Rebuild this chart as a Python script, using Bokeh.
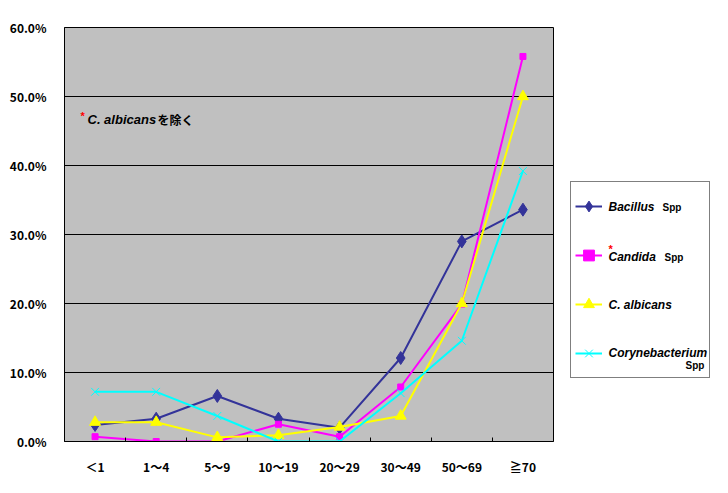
from bokeh.plotting import figure
from bokeh.layouts import row
from bokeh.models import (Range1d, FixedTicker, NumeralTickFormatter,
                          Legend, LegendItem, Label)
from bokeh.embed import file_html
from bokeh.resources import INLINE

# ---- data ----
categories = ["＜1", "1～4", "5～9", "10～19", "20～29", "30～49", "50～69", "≧70"]
bacillus = [0.024, 0.033, 0.066, 0.033, 0.020, 0.121, 0.290, 0.336]
candida = [0.007, 0.000, 0.000, 0.025, 0.007, 0.079, 0.199, 0.558]
albicans = [0.028, 0.028, 0.006, 0.009, 0.021, 0.037, 0.200, 0.500]
coryne = [0.072, 0.072, 0.037, 0.000, 0.000, 0.070, 0.146, 0.392]
y_ticks = [0.0, 0.1, 0.2, 0.3, 0.4, 0.5, 0.6]

FONT = "Noto Sans CJK JP"
LAT = "Liberation Sans"
n = len(categories)
xs = [i + 0.5 for i in range(n)]  # category centres on the category scale

H = 477
TOP, BOT = 27, 28
p = figure(width=562, height=H, x_range=Range1d(0, n),
           y_range=Range1d(0, 0.6), output_backend="svg", toolbar_location=None,
           min_border_left=64, min_border_right=9,
           min_border_top=TOP, min_border_bottom=BOT)
p.background_fill_color = "#C0C0C0"
p.border_fill_color = "white"
p.outline_line_color = "black"
p.outline_line_width = 1
p.xgrid.visible = False
p.ygrid.grid_line_color = "black"
p.ygrid.grid_line_width = 1
p.ygrid.ticker = FixedTicker(ticks=y_ticks)

ya = p.yaxis[0]
ya.ticker = FixedTicker(ticks=y_ticks)
ya.formatter = NumeralTickFormatter(format="0.0%")
ya.major_tick_line_color = None
ya.minor_tick_line_color = None
ya.axis_line_color = "black"
ya.major_label_standoff = 12
ya.major_label_text_font = FONT
ya.major_label_text_font_size = "12px"
ya.major_label_text_font_style = "bold"
ya.major_label_text_color = "black"

# category axis: labels at centres, small inward ticks between categories
overrides = {}
for xv, c in zip(xs, categories):
    overrides[xv] = c
xa = p.xaxis[0]
xa.ticker = FixedTicker(ticks=xs, minor_ticks=list(range(1, n)))
xa.major_label_overrides = overrides
xa.major_tick_line_color = None
xa.minor_tick_in = 4
xa.minor_tick_out = 0
xa.minor_tick_line_color = "black"
xa.axis_line_color = "black"
xa.major_label_standoff = 10
xa.major_label_text_font = FONT
xa.major_label_text_font_size = "12px"
xa.major_label_text_font_style = "bold"
xa.major_label_text_color = "black"

series = [
    ("Bacillus", bacillus, "#333399", "diamond", 13),
    ("Candida", candida, "#FF00FF", "square", 6),
    ("C. albicans", albicans, "#FFFF00", "triangle", 11),
    ("Corynebacterium", coryne, "#00FFFF", "x", 11),
]
for name, vals, col, mk, sz in series:
    p.line(xs, vals, line_color=col, line_width=2)
    p.scatter(xs, vals, marker=mk, size=sz, fill_color=col,
              line_color=col, line_width=1)


def dx(px):
    return (px - 64) / 489 * n


def dy(py):
    return (449 - py) / 422 * 0.6


# annotation inside plot area
p.add_layout(Label(x=dx(80), y=dy(117), text="*", text_font=LAT, text_font_size="11px",
                   text_font_style="bold", text_color="red", text_baseline="middle"))
p.add_layout(Label(x=dx(87), y=dy(121), text="C. albicans", text_font=LAT,
                   text_font_size="13px", text_font_style="bold italic",
                   text_color="black", text_baseline="middle"))
p.add_layout(Label(x=dx(157), y=dy(121), text="を除く", text_font=FONT,
                   text_font_size="12px", text_font_style="bold",
                   text_color="black", text_baseline="middle"))

# ---- legend panel (separate figure to the right; data units = page pixels) ----
X0, LW = 562, 150
QBOT = 440  # measured bottom of this panel's frame on the page
q = figure(width=LW, height=H, x_range=Range1d(X0, X0 + LW), y_range=Range1d(QBOT, TOP),
           output_backend="svg", toolbar_location=None,
           x_axis_location=None, y_axis_location=None,
           min_border_left=0, min_border_right=0, min_border_top=TOP, min_border_bottom=BOT)
q.outline_line_color = None
q.background_fill_color = "white"
q.border_fill_color = "white"
q.xgrid.visible = False
q.ygrid.visible = False

items = []
for name, vals, col, mk, sz in series:
    ln = q.line(xs, vals, line_color=col, line_width=2, visible=False)
    sc = q.scatter(xs, vals, marker=mk, size=sz, fill_color=col, line_color=col,
                   line_width=1, visible=False)
    items.append(LegendItem(label=" ", renderers=[ln, sc]))

legend = Legend(items=items, location=(570 - X0, 63), margin=0, padding=4,
                spacing=9, glyph_width=27, glyph_height=40, label_height=40,
                label_width=98, label_standoff=5, label_text_font_size="8px",
                border_line_color="black", border_line_width=1,
                background_fill_color="white", background_fill_alpha=0.0)
q.add_layout(legend, "center")


def lab(txt, px, py, size="12px", style="bold italic", color="black", font=LAT):
    q.add_layout(Label(x=px, y=py, text=txt, text_font=font,
                       text_font_size=size, text_font_style=style,
                       text_color=color, text_align="left",
                       text_baseline="middle", level="overlay"))


lab("Bacillus", 608, 206)
lab("Spp", 662, 207, size="10px", style="bold")
lab("*", 608, 248, size="11px", style="bold", color="red")
lab("Candida", 608, 256)
lab("Spp", 664, 256, size="10px", style="bold")
lab("C. albicans", 608, 304)
lab("Corynebacterium", 608, 352)
lab("Spp", 685, 364, size="10px", style="bold")

layout = row(p, q, spacing=0)
open("out.html", "w").write(file_html(layout, INLINE))
